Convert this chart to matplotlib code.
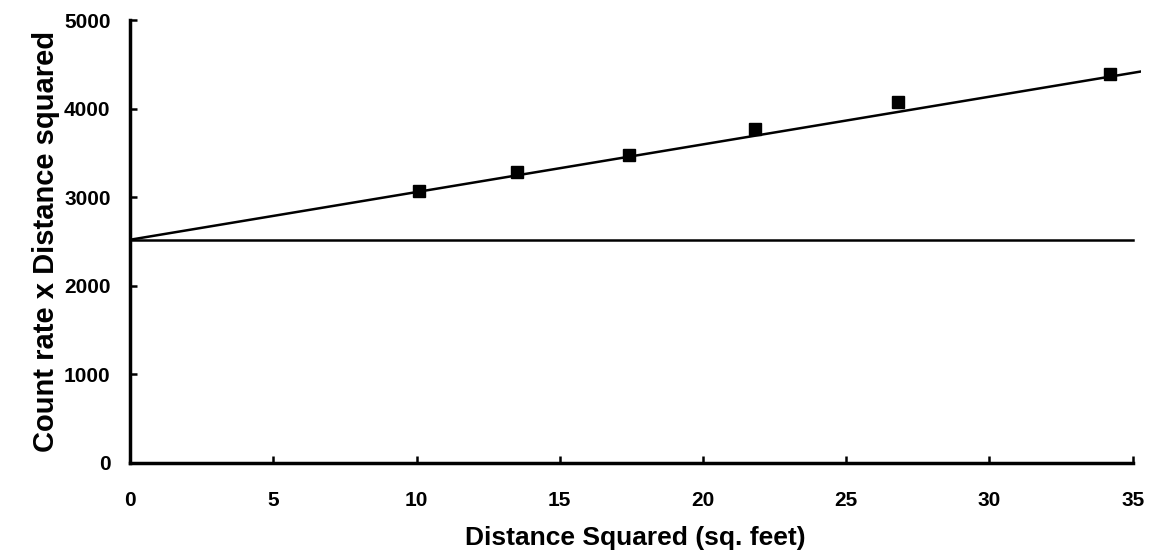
import matplotlib
matplotlib.use("Agg")
import matplotlib.pyplot as plt

# measured points
dist_sq = [10.1, 13.5, 17.4, 21.8, 26.8, 34.2]
count_x_dist = [3065, 3290, 3475, 3765, 4070, 4395]

# fitted line and background level
fit_x = [0, 35.3]
fit_y = [2520, 4420]
bg_x = [0, 35]
bg_y = [2520, 2520]

xticks = [0, 5, 10, 15, 20, 25, 30, 35]
yticks = [0, 1000, 2000, 3000, 4000, 5000]

plt.rcParams['font.family'] = ['Liberation Sans', 'DejaVu Sans']

fig = plt.figure(figsize=(11.54, 5.57), dpi=100)
ax = fig.add_axes([0.1127, 0.1688, 0.8763, 0.7952])

ax.plot(fit_x, fit_y, color='black', lw=1.8)
ax.plot(bg_x, bg_y, color='black', lw=1.8)
ax.plot(dist_sq, count_x_dist, 's', color='black', ms=8)

ax.set_xlim(0, 35.3)
ax.set_ylim(0, 5000)
ax.spines['top'].set_visible(False)
ax.spines['right'].set_visible(False)
ax.spines['bottom'].set_bounds(0, 35)
ax.spines['left'].set_linewidth(2.5)
ax.spines['bottom'].set_linewidth(2.5)

ax.set_xticks(xticks)
ax.set_yticks(yticks)
ax.tick_params(direction='in', length=5, width=1.8, labelsize=15)
ax.tick_params(axis='x', pad=20)
ax.tick_params(axis='y', pad=14)
for lab in ax.get_xticklabels() + ax.get_yticklabels():
    lab.set_fontweight('bold')

ax.set_xlabel('Distance Squared (sq. feet)', fontsize=19, fontweight='bold', labelpad=12)
ax.set_ylabel('Count rate x Distance squared', fontsize=21, fontweight='bold', labelpad=3)

plt.savefig('out.png', dpi=100)
